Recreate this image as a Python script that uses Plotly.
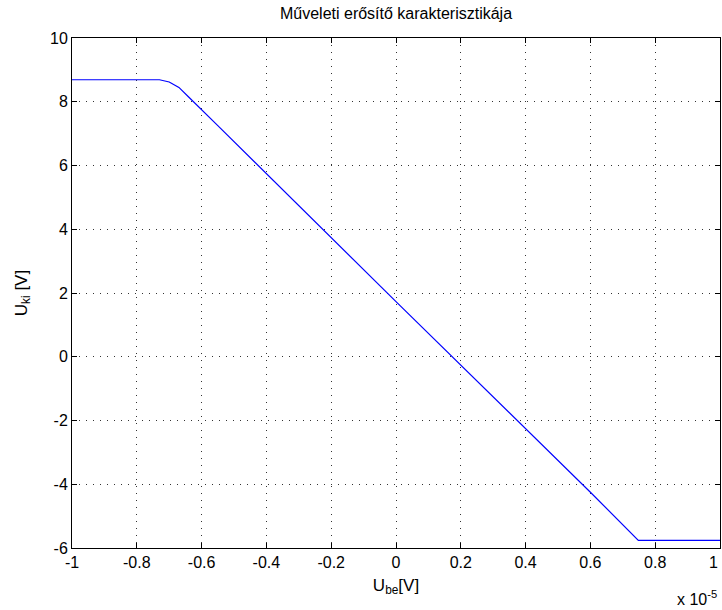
import plotly.graph_objects as go

# Input voltage in units of 1e-5 V, output voltage in V
u_be = [-1.0, -0.73, -0.70, -0.67, -0.64, -0.60, -0.55, 0.0, 0.60, 0.748, 1.0]
u_ki = [8.69, 8.69, 8.62, 8.45, 8.15, 7.76, 7.25, 1.73, -4.25, -5.76, -5.76]

x_ticks = [-1, -0.8, -0.6, -0.4, -0.2, 0, 0.2, 0.4, 0.6, 0.8, 1]
x_tick_text = ["-1", "-0.8", "-0.6", "-0.4", "-0.2", "0", "0.2", "0.4", "0.6", "0.8", "1"]
y_ticks = [-6, -4, -2, 0, 2, 4, 6, 8, 10]
y_tick_text = ["-6", "-4", "-2", "0", "2", "4", "6", "8", "10"]

FONT = "Liberation Sans, Arial, sans-serif"
TICK_SIZE = 16

fig = go.Figure()
fig.add_trace(go.Scatter(x=u_be, y=u_ki, mode="lines",
                         line=dict(color="#0000ff", width=1.2),
                         showlegend=False))

axis_common = dict(
    showline=True, linecolor="#000", linewidth=1, mirror="ticks",
    ticks="inside", ticklen=5, tickcolor="#000", tickwidth=1,
    showgrid=True, gridcolor="#333", gridwidth=1, griddash="1px,6px",
    zeroline=False, tickfont=dict(family=FONT, size=TICK_SIZE, color="#000"),
)

# the last x tick label ("1") sits at the right edge: draw it as an annotation
x_tick_text_axis = x_tick_text[:-1] + [""]

fig.update_xaxes(range=[-1, 1], tickvals=x_ticks, ticktext=x_tick_text_axis,
                 title=dict(text="U<sub>be</sub>[V]", font=dict(family=FONT, size=17, color="#000"), standoff=8),
                 **axis_common)
fig.update_yaxes(range=[-6, 10], tickvals=y_ticks, ticktext=y_tick_text,
                 title=dict(text="U<sub>ki</sub> [V]", font=dict(family=FONT, size=17, color="#000"), standoff=18),
                 **axis_common)

fig.update_layout(
    width=722, height=610,
    margin=dict(l=72, r=2, t=38, b=62),
    paper_bgcolor="#fff", plot_bgcolor="#fff",
    title=dict(text="Műveleti erősítő karakterisztikája", x=396 / 722, xanchor="center",
               y=1 - 13 / 610, yanchor="middle",
               font=dict(family=FONT, size=16, color="#000")),
    annotations=[
        dict(text=x_tick_text[-1], xref="x", yref="paper",
             x=x_ticks[-1], y=-14 / 510, xanchor="right", yanchor="middle",
             showarrow=False, font=dict(family=FONT, size=TICK_SIZE, color="#000")),
        dict(text="x 10<sup>-5</sup>", xref="paper", yref="paper",
             x=0.998, y=-50 / 510, xanchor="right", yanchor="middle",
             showarrow=False, font=dict(family=FONT, size=16, color="#000")),
    ],
)

fig.write_html("out.html")
